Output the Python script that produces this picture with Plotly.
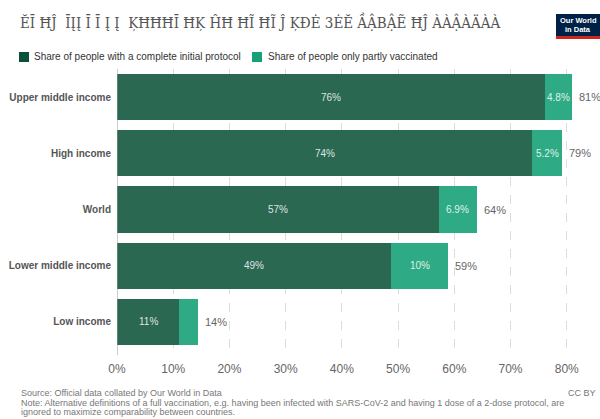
import plotly.graph_objects as go

categories = ["Upper middle income", "High income", "World", "Lower middle income", "Low income"]
full_protocol = [76.2, 73.9, 57.2, 48.8, 11.1]
partly_vaccinated = [4.8, 5.2, 6.9, 10.1, 3.3]
tick_values = [0, 10, 20, 30, 40, 50, 60, 70, 80]
tick_labels = ["0%", "10%", "20%", "30%", "40%", "50%", "60%", "70%", "80%"]

series_names = ["Share of people with a complete initial protocol",
                "Share of people only partly vaccinated"]
title_text = "ĔĪ ĦĴ  ĪĮĮ Ī Ī Į Į  ĶĦĦĦĪ ĦĶ ĤĦ ĦĨ ĦĨ Ĵ ĶĐĖ 3ĖĔ ẦẬBẬẼ ĦĴ ÀÀẬÀÄÀÀ"
source_text = "Source: Official data collated by Our World in Data"
note_lines = ["Note: Alternative definitions of a full vaccination, e.g. having been infected with SARS-CoV-2 and having 1 dose of a 2-dose protocol, are",
              "ignored to maximize comparability between countries."]

DARK_BAR = "#2a6852"
LIGHT_BAR = "#2eab84"
DARK_KEY = "#0b5138"
LIGHT_KEY = "#18a077"

L, R, T, B = 117, 22, 69, 69
W, H = 600, 419
PW, PH = W - L - R, H - T - B


def fmt(v):
    if v >= 9.95:
        return f"{round(v)}%"
    return f"{v:.1f}%"


totals = [a + b for a, b in zip(full_protocol, partly_vaccinated)]
full_text = [fmt(v) for v in full_protocol]
part_text = [fmt(v) if v >= 4 else "" for v in partly_vaccinated]
total_text = [f"{round(t)}%" for t in totals]

bar_font = dict(family="Liberation Sans, Arial", size=10, color="rgba(255,255,255,0.85)")

fig = go.Figure()
fig.add_trace(go.Bar(
    y=categories, x=full_protocol, orientation="h", name=series_names[0],
    marker=dict(color=DARK_BAR, line=dict(width=0)), showlegend=False,
))
fig.add_trace(go.Bar(
    y=categories, x=partly_vaccinated, orientation="h", name=series_names[1],
    marker=dict(color=LIGHT_BAR, line=dict(width=0)), showlegend=False,
))

for cat, f, p, ft, pt, tot, tt in zip(categories, full_protocol, partly_vaccinated,
                                       full_text, part_text, totals, total_text):
    fig.add_annotation(x=f / 2, y=cat, text=ft, xref="x", yref="y", xanchor="center", yanchor="middle",
                       showarrow=False, font=bar_font)
    if pt:
        fig.add_annotation(x=f + p / 2, y=cat, text=pt, xref="x", yref="y", xanchor="center",
                           yanchor="middle", showarrow=False, font=bar_font)
    fig.add_annotation(x=tot, y=cat, text=tt, xref="x", yref="y", xanchor="left", yanchor="middle",
                       xshift=5, showarrow=False,
                       font=dict(family="Liberation Sans, Arial", size=11, color="#666"))

fig.update_layout(
    width=W, height=H,
    margin=dict(l=L, r=R, t=T, b=B, autoexpand=False),
    paper_bgcolor="white", plot_bgcolor="white",
    barmode="stack", bargap=0.18,
    font=dict(family="Liberation Sans, Arial", color="#666"),
)
fig.update_xaxes(
    range=[0, 82], tickvals=tick_values, ticktext=tick_labels,
    showgrid=True, gridcolor="#dcdcdc", griddash="dash", gridwidth=1,
    zeroline=False, showline=False, automargin=False,
    ticks="outside", ticklen=8, tickcolor="rgba(0,0,0,0)",
    tickfont=dict(size=12, color="#666"),
    fixedrange=True,
)
fig.update_yaxes(
    categoryorder="array", categoryarray=categories, autorange="reversed",
    showgrid=False, zeroline=False, showline=False, automargin=False,
    ticks="", ticklabelstandoff=5,
    tickfont=dict(size=10, color="#555", family="Liberation Sans, Arial", weight="bold"),
    fixedrange=True,
)


def px_x(p):
    return (p - L) / PW


def px_y(p):
    return (H - B - p) / PH


# vertical baseline at 0
fig.add_shape(type="line", xref="x", yref="paper", x0=0, x1=0, y0=px_y(355), y1=1,
              line=dict(color="#999", width=1))

# Title
fig.add_annotation(text=title_text, xref="paper", yref="paper", x=px_x(18), y=px_y(22),
                   xanchor="left", yanchor="middle", showarrow=False,
                   font=dict(family="DejaVu Serif Condensed, Liberation Serif", size=15, color="#555"))

# Legend (manual)
fig.add_shape(type="rect", xref="paper", yref="paper", x0=px_x(19), x1=px_x(29), y0=px_y(62), y1=px_y(52),
              fillcolor=DARK_KEY, line=dict(width=0))
fig.add_annotation(text=series_names[0], xref="paper", yref="paper", x=px_x(32), y=px_y(57),
                   xanchor="left", yanchor="middle", showarrow=False,
                   font=dict(size=10, color="#333"))
fig.add_shape(type="rect", xref="paper", yref="paper", x0=px_x(252), x1=px_x(262), y0=px_y(62), y1=px_y(52),
              fillcolor=LIGHT_KEY, line=dict(width=0))
fig.add_annotation(text=series_names[1], xref="paper", yref="paper", x=px_x(266), y=px_y(57),
                   xanchor="left", yanchor="middle", showarrow=False,
                   font=dict(size=10, color="#333"))

# Logo
fig.add_shape(type="rect", xref="paper", yref="paper", x0=px_x(556), x1=px_x(600), y0=px_y(39), y1=px_y(14),
              fillcolor="#002147", line=dict(width=0))
fig.add_shape(type="rect", xref="paper", yref="paper", x0=px_x(556), x1=px_x(600), y0=px_y(39), y1=px_y(36),
              fillcolor="#ce261e", line=dict(width=0))
fig.add_annotation(text="<b>Our World</b>", xref="paper", yref="paper", x=px_x(578), y=px_y(20.5),
                   xanchor="center", yanchor="middle", showarrow=False,
                   font=dict(size=7.5, color="white", family="Liberation Sans Narrow, Liberation Sans, Arial"))
fig.add_annotation(text="<b>in Data</b>", xref="paper", yref="paper", x=px_x(578), y=px_y(29.5),
                   xanchor="center", yanchor="middle", showarrow=False,
                   font=dict(size=7.5, color="white", family="Liberation Sans Narrow, Liberation Sans, Arial"))

# Footer
foot_font = dict(size=9, color="#777")
fig.add_annotation(text=source_text, xref="paper", yref="paper", x=px_x(19), y=px_y(392.5),
                   xanchor="left", yanchor="middle", showarrow=False, font=foot_font)
fig.add_annotation(text="CC BY", xref="paper", yref="paper", x=px_x(598), y=px_y(392.5),
                   xanchor="right", yanchor="middle", showarrow=False, font=foot_font)
for i, line in enumerate(note_lines):
    fig.add_annotation(text=line, xref="paper", yref="paper", x=px_x(19), y=px_y(403 + 9 * i),
                       xanchor="left", yanchor="middle", showarrow=False, font=foot_font)

fig.write_html("out.html", config={"displayModeBar": False},
               post_script="document.body.style.margin='0';document.body.style.overflow='hidden';")
